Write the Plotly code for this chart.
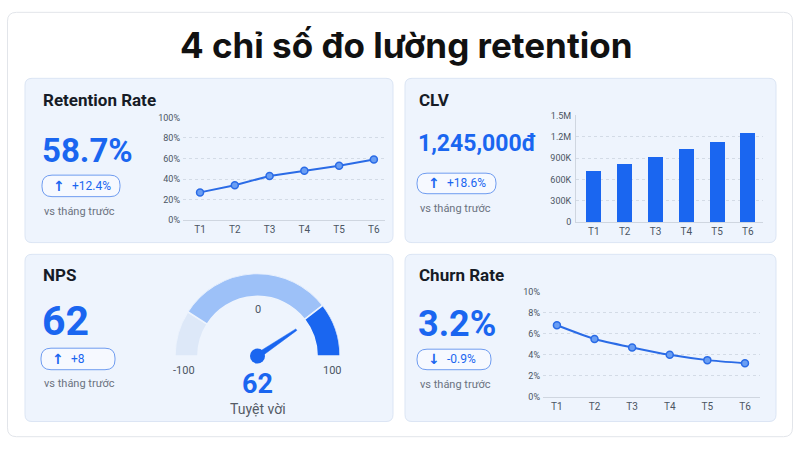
import plotly.graph_objects as go

W, H = 800, 450

# ---------------- data ----------------
months = ["T1", "T2", "T3", "T4", "T5", "T6"]
retention_pct = [27, 34, 43, 48, 53, 59]
clv_vnd = [715000, 810000, 915000, 1025000, 1120000, 1245000]
churn_pct = [6.8, 5.5, 4.7, 4.0, 3.5, 3.2]

retention_tickvals = [0, 20, 40, 60, 80, 100]
retention_ticktext = ["0%", "20%", "40%", "60%", "80%", "100%"]
clv_tickvals = [0, 300000, 600000, 900000, 1200000, 1500000]
clv_ticktext = ["0", "300K", "600K", "900K", "1.2M", "1.5M"]
churn_tickvals = [0, 2, 4, 6, 8, 10]
churn_ticktext = ["0%", "2%", "4%", "6%", "8%", "10%"]

nps_value = 62
nps_min, nps_max = -100, 100
nps_zone_edges = [-100, -64, 58, 100]
nps_zone_colors = ["#dde8f8", "#9dc1f8", "#1a66f0"]

kpi_titles = ["Retention Rate", "CLV", "NPS", "Churn Rate"]
kpi_values = ["58.7%", "1,245,000đ", "62", "3.2%"]
kpi_deltas = ["+12.4%", "+18.6%", "+8", "-0.9%"]
kpi_arrows = ["↑", "↑", "↑", "↓"]

# ---------------- style ----------------
FONT = "Roboto"
TFONT = "Inter"
BLUE = "#1a66f0"
TEXT_DARK = "#161b26"
GREY = "#6b7280"
TICK = "#4b5563"
PANEL_FILL = "#eef4fd"
PANEL_LINE = "#dbe5f4"
GRID = "#d3dbe6"


def px(x):
    return x / W


def py(y):
    return 1 - y / H


def rrect(x0, y0, x1, y1, r):
    pts = [
        ("M", [(x0 + r, y0)]), ("L", [(x1 - r, y0)]), ("Q", [(x1, y0), (x1, y0 + r)]),
        ("L", [(x1, y1 - r)]), ("Q", [(x1, y1), (x1 - r, y1)]), ("L", [(x0 + r, y1)]),
        ("Q", [(x0, y1), (x0, y1 - r)]), ("L", [(x0, y0 + r)]), ("Q", [(x0, y0), (x0 + r, y0)]),
    ]
    s = ""
    for cmd, ps in pts:
        s += cmd + " " + " ".join(f"{px(a):.5f},{py(b):.5f}" for a, b in ps) + " "
    return s + "Z"


fig = go.Figure()

# ---------------- retention line ----------------
fig.add_trace(go.Scatter(
    x=months, y=retention_pct, mode="lines+markers", xaxis="x", yaxis="y",
    line=dict(color="#2a6be6", width=2),
    marker=dict(size=7, color="#6a9ef3", line=dict(color="#2a6be6", width=1.5)),
    hoverinfo="skip", showlegend=False,
))

# ---------------- CLV bars ----------------
fig.add_trace(go.Bar(
    x=months, y=clv_vnd, xaxis="x2", yaxis="y2", width=0.49,
    marker=dict(color=BLUE, line=dict(width=0)),
    hoverinfo="skip", showlegend=False,
))

# ---------------- churn line ----------------
fig.add_trace(go.Scatter(
    x=months, y=churn_pct, mode="lines+markers", xaxis="x3", yaxis="y3",
    line=dict(color="#2a6be6", width=2, shape="spline", smoothing=0.6),
    marker=dict(size=7, color="#6a9ef3", line=dict(color="#2a6be6", width=1.5)),
    hoverinfo="skip", showlegend=False,
))


# ---------------- NPS gauge (polar) ----------------
def nps_to_theta(v):
    return (v - nps_min) / (nps_max - nps_min) * 180.0


R_OUT, R_IN = 84.5, 61.0
zone_theta = [nps_to_theta((a + b) / 2) for a, b in zip(nps_zone_edges[:-1], nps_zone_edges[1:])]
zone_width = [nps_to_theta(b) - nps_to_theta(a) for a, b in zip(nps_zone_edges[:-1], nps_zone_edges[1:])]
fig.add_trace(go.Barpolar(
    r=[R_OUT - R_IN] * 3, base=[R_IN] * 3, theta=zone_theta, width=zone_width,
    marker=dict(color=nps_zone_colors, line=dict(color=PANEL_FILL, width=1.5)),
    subplot="polar", hoverinfo="skip", showlegend=False,
))
t = nps_to_theta(nps_value)
NEEDLE_LEN = 48
fig.add_trace(go.Scatterpolar(
    r=[2.8, NEEDLE_LEN, NEEDLE_LEN, 2.8, 2.8],
    theta=[t - 90, t - 1.1, t + 1.1, t + 90, t - 90],
    mode="lines", fill="toself", fillcolor=BLUE, line=dict(color=BLUE, width=0.5),
    subplot="polar", hoverinfo="skip", showlegend=False,
))
fig.add_trace(go.Scatterpolar(
    r=[0], theta=[t], mode="markers", marker=dict(size=15, color=BLUE),
    subplot="polar", hoverinfo="skip", showlegend=False, cliponaxis=False,
))

# ---------------- shapes ----------------
shapes = []
shapes.append(dict(type="path", path=rrect(7.5, 7.5, 792.5, 441.5, 9), xref="paper", yref="paper",
                   fillcolor="#ffffff", line=dict(color="#e2e5ea", width=1), layer="below"))
panels = [(25, 75, 393, 243), (405, 75, 776, 243), (25, 255, 393, 426), (405, 255, 776, 426)]
for (x0, y0, x1, y1) in panels:
    shapes.append(dict(type="path", path=rrect(x0, y0, x1, y1, 7), xref="paper", yref="paper",
                       fillcolor=PANEL_FILL, line=dict(color=PANEL_LINE, width=1), layer="below"))
badges = [(42, 174, 120, 196), (417, 172, 496, 193), (41, 351, 115, 373), (417, 352, 491, 373)]
for (x0, y0, x1, y1) in badges:
    shapes.append(dict(type="path", path=rrect(x0, y0, x1, y1, 10), xref="paper", yref="paper",
                       fillcolor="#f6f9ff", line=dict(color="#6f9cf0", width=1), layer="below"))

# ---------------- annotations ----------------
ann = []


def txt(x, y, s, size, color, weight=400, xanchor="left", family=FONT):
    ann.append(dict(x=px(x), y=py(y), xref="paper", yref="paper", text=s, showarrow=False,
                    xanchor=xanchor, yanchor="middle",
                    font=dict(family=family, size=size, color=color, weight=weight)))


txt(406, 41, "4 chỉ số đo lường retention", 35, "#111111", 700, "center", TFONT)

title_pos = [(41, 97), (417, 97), (41, 276), (417, 276)]
value_pos = [(40, 149, 33), (416, 142, 23), (40, 323, 41), (416, 326, 36)]
vs_pos = [(42, 211), (418, 208), (42, 387), (418, 388)]
for i in range(4):
    txt(title_pos[i][0], title_pos[i][1], kpi_titles[i], 17, TEXT_DARK, 700)
    vx, vy, vs = value_pos[i]
    txt(vx, vy, kpi_values[i], vs, BLUE, 700)
    bx0, by0, bx1, by1 = badges[i]
    bym = (by0 + by1) / 2
    txt(bx0 + 17, bym, kpi_arrows[i], 14, BLUE, 700, "center", "DejaVu Sans")
    txt(bx0 + 28, bym, kpi_deltas[i], 12, BLUE, 400)
    txt(vs_pos[i][0], vs_pos[i][1], "vs tháng trước", 11, GREY, 400)

# gauge labels
txt(257.5, 311, "0", 11, TICK, 400, "center")
txt(184, 374, str(nps_min), 11, TICK, 400, "center")
txt(332, 374, str(nps_max), 11, TICK, 400, "center")
txt(257.5, 388, str(nps_value), 27, BLUE, 700, "center")
txt(257.5, 413, "Tuyệt vời", 14, "#555b66", 400, "center")

# ---------------- axes ----------------
tickfont = dict(family=FONT, size=9, color=TICK)


def xax(x0, x1, rng, anchor):
    return dict(domain=[px(x0), px(x1)], anchor=anchor, type="category", range=rng,
                showgrid=False, zeroline=False, showline=True, linecolor="#cfd6e0", linewidth=1,
                ticks="", tickfont=dict(family=FONT, size=10, color=TICK), fixedrange=True)


def yax(y_top, y_bot, rng, tv, tt, anchor, showline=False):
    return dict(domain=[py(y_bot), py(y_top)], anchor=anchor, range=rng, tickvals=tv, ticktext=tt,
                showgrid=True, gridcolor=GRID, griddash="dot", gridwidth=1, zeroline=False,
                showline=showline, linecolor="#cfd6e0", linewidth=1,
                ticks="", tickfont=tickfont, fixedrange=True, ticklabelstandoff=2)


layout = dict(
    width=W, height=H, autosize=False,
    margin=dict(l=0, r=0, t=0, b=0, pad=0),
    paper_bgcolor="#ffffff", plot_bgcolor="rgba(0,0,0,0)",
    showlegend=False, shapes=shapes, annotations=ann,
    font=dict(family=FONT),
    xaxis=xax(183, 385, [-0.49, 5.32], "y"),
    yaxis=yax(115, 220, [0, 100], retention_tickvals, retention_ticktext, "x"),
    xaxis2=xax(576, 763, [-0.58, 5.49], "y2"),
    yaxis2=yax(113, 222, [0, 1500000], clv_tickvals, clv_ticktext, "x2", showline=True),
    xaxis3=xax(543, 760, [-0.37, 5.4], "y3"),
    yaxis3=yax(293, 401, [0, 10], churn_tickvals, churn_ticktext, "x3"),
    polar=dict(
        domain=dict(x=[px(173), px(342)], y=[py(359), py(359 - R_OUT)]),
        sector=[0, 180], bgcolor="rgba(0,0,0,0)", hole=0,
        radialaxis=dict(visible=False, range=[0, R_OUT], showgrid=False),
        angularaxis=dict(visible=False, rotation=180, direction="clockwise", showgrid=False),
    ),
    bargap=0,
)
fig.update_layout(**layout)
fig.write_html("out.html")
